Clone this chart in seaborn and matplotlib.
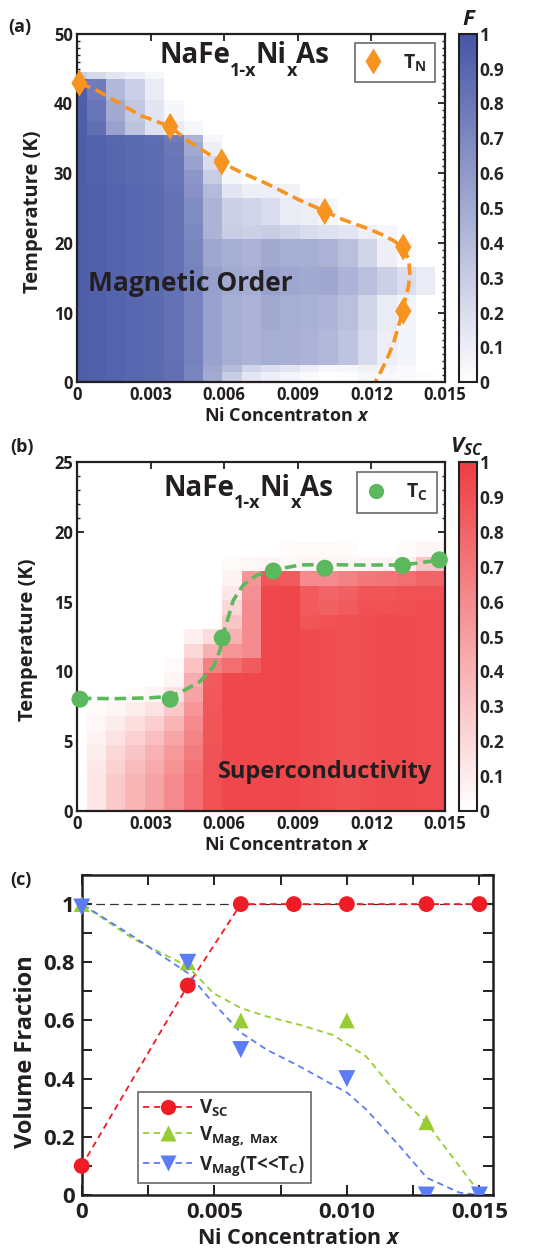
import numpy as np
import matplotlib
matplotlib.use("Agg")
import matplotlib.pyplot as plt
import seaborn as sns
from matplotlib.colors import LinearSegmentedColormap
from matplotlib.lines import Line2D
from matplotlib.ticker import MultipleLocator, FixedLocator, FixedFormatter

# ------------------------------------------------------------------ data
# Panel (a): magnetic volume fraction F on a (T, x) grid
a_x_step = 0.015 / 19          # column spacing of the colour map
a_T_step = 1.0                 # row spacing (K)
a_n_rows = 45
a_band_rows = [(0, 1), (2, 2), (3, 7), (8, 12), (13, 16), (17, 20), (21, 22), (23, 26),
               (27, 28), (29, 30), (31, 32), (33, 34), (35, 35), (36, 37), (38, 40),
               (41, 43), (44, 44)]
a_band_F = [
    [96, 94, 92, 90, 88, 85, 72, 50, 30, 15, 10, 6, 3, 0, 2, 5, 4, 3, 2],
    [96, 94, 92, 90, 88, 85, 73, 52, 40, 25, 20, 15, 10, 5, 5, 8, 6, 3, 0],
    [96, 94, 92, 90, 88, 84, 74, 55, 48, 45, 48, 47, 45, 42, 35, 22, 10, 6, 0],
    [96, 94, 92, 90, 88, 84, 74, 55, 48, 45, 50, 48, 46, 44, 38, 25, 12, 6, 0],
    [96, 94, 92, 90, 88, 84, 74, 56, 50, 48, 55, 52, 50, 52, 45, 38, 28, 20, 12],
    [96, 94, 92, 90, 88, 84, 73, 52, 48, 45, 50, 48, 48, 45, 38, 25, 10, 3, 0],
    [96, 94, 92, 90, 88, 84, 70, 45, 30, 28, 30, 25, 20, 18, 15, 10, 5, 0, 0],
    [96, 94, 92, 90, 88, 84, 68, 45, 28, 25, 20, 12, 10, 5, 0, 0, 0, 0, 0],
    [96, 94, 92, 90, 88, 83, 65, 40, 15, 10, 10, 8, 0, 0, 0, 0, 0, 0, 0],
    [96, 93, 91, 89, 87, 82, 62, 30, 5, 0, 0, 0, 0, 0, 0, 0, 0, 0, 0],
    [96, 93, 91, 89, 87, 82, 55, 20, 0, 0, 0, 0, 0, 0, 0, 0, 0, 0, 0],
    [96, 93, 91, 89, 87, 80, 50, 10, 0, 0, 0, 0, 0, 0, 0, 0, 0, 0, 0],
    [96, 92, 90, 88, 86, 78, 45, 5, 0, 0, 0, 0, 0, 0, 0, 0, 0, 0, 0],
    [96, 85, 55, 35, 18, 12, 5, 0, 0, 0, 0, 0, 0, 0, 0, 0, 0, 0, 0],
    [95, 82, 50, 32, 15, 5, 0, 0, 0, 0, 0, 0, 0, 0, 0, 0, 0, 0, 0],
    [95, 78, 42, 28, 12, 0, 0, 0, 0, 0, 0, 0, 0, 0, 0, 0, 0, 0, 0],
    [30, 22, 15, 10, 5, 0, 0, 0, 0, 0, 0, 0, 0, 0, 0, 0, 0, 0, 0],
]
tn_x = [0.0001, 0.0038, 0.0059, 0.0101, 0.0133, 0.0133]
tn_T = [42.9, 36.7, 31.6, 24.5, 19.4, 10.2]
tn_curve_x = [0.0001, 0.0008, 0.00162, 0.00257, 0.00379, 0.00447, 0.00529, 0.00591,
              0.00664, 0.00773, 0.00909, 0.01012, 0.01086, 0.01181, 0.01249, 0.01296,
              0.01327, 0.01351, 0.01357, 0.01351, 0.01337, 0.01327, 0.0131, 0.0129,
              0.01262, 0.01235, 0.01215]
tn_curve_T = [42.9, 41.9, 40.25, 38.3, 36.7, 34.75, 32.9, 31.5, 30.2, 28.5, 26.1, 24.5,
              23.3, 22.1, 21.1, 20.2, 19.2, 17.8, 15.6, 13.7, 11.8, 10.1, 8.0, 5.6, 3.2,
              1.3, 0.0]

# Panel (b): superconducting volume fraction V_SC
b_x_step = 0.015 / 19
b_T_step = 25 / 24
b_n_rows = 19
b_band_rows = [(0, 2), (3, 3), (4, 4), (5, 5), (6, 6), (7, 7), (8, 8), (9, 9), (10, 10),
               (11, 11), (12, 12), (13, 13), (14, 14), (15, 15), (16, 16), (17, 17), (18, 18)]
b_band_V = [
    [0, 14, 28, 38, 48, 60, 75, 90, 95, 95, 95, 96, 93, 92, 91, 92, 93, 93, 92, 92],
    [0, 12, 24, 34, 44, 56, 72, 90, 95, 95, 95, 96, 93, 92, 91, 92, 93, 93, 92, 92],
    [0, 9, 20, 30, 40, 52, 68, 89, 95, 95, 95, 96, 93, 92, 91, 92, 93, 93, 92, 92],
    [0, 7, 15, 24, 33, 46, 64, 88, 95, 95, 95, 96, 93, 92, 91, 92, 93, 93, 92, 92],
    [0, 4, 10, 17, 25, 38, 60, 88, 95, 95, 95, 96, 93, 92, 91, 92, 93, 93, 92, 92],
    [0, 2, 5, 9, 15, 28, 55, 87, 95, 95, 95, 96, 93, 92, 91, 92, 93, 93, 92, 92],
    [0, 0, 0, 2, 5, 15, 48, 86, 95, 95, 95, 96, 93, 92, 91, 92, 93, 93, 92, 92],
    [0, 0, 0, 0, 0, 6, 42, 85, 94, 95, 95, 96, 93, 92, 91, 92, 93, 93, 92, 92],
    [0, 0, 0, 0, 0, 3, 32, 65, 75, 85, 95, 96, 93, 92, 91, 92, 93, 93, 92, 92],
    [0, 0, 0, 0, 0, 0, 20, 40, 55, 60, 95, 96, 93, 92, 91, 92, 93, 93, 92, 92],
    [0, 0, 0, 0, 0, 0, 8, 18, 40, 60, 95, 96, 93, 92, 91, 92, 93, 93, 92, 92],
    [0, 0, 0, 0, 0, 0, 0, 0, 30, 60, 95, 96, 88, 90, 91, 92, 93, 93, 92, 92],
    [0, 0, 0, 0, 0, 0, 0, 0, 20, 60, 95, 96, 85, 82, 85, 90, 90, 91, 92, 92],
    [0, 0, 0, 0, 0, 0, 0, 0, 12, 58, 95, 96, 85, 80, 82, 88, 88, 90, 90, 90],
    [0, 0, 0, 0, 0, 0, 0, 0, 7, 55, 88, 85, 60, 60, 65, 70, 72, 75, 80, 80],
    [0, 0, 0, 0, 0, 0, 0, 0, 3, 4, 5, 4, 6, 6, 5, 5, 6, 8, 30, 30],
    [0, 0, 0, 0, 0, 0, 0, 0, 0, 0, 0, 2, 3, 3, 2, 0, 0, 2, 5, 5],
]
tc_x = [0.00012, 0.0038, 0.00592, 0.0080, 0.0101, 0.01327, 0.01477]
tc_T = [8.0, 8.0, 12.4, 17.2, 17.4, 17.6, 18.0]
tc_curve_x = [0.00012, 0.00162, 0.00298, 0.0038, 0.00427, 0.00501, 0.00556, 0.00583,
              0.00596, 0.00617, 0.00637, 0.00678, 0.00732, 0.0080, 0.00909, 0.01011,
              0.01113, 0.01327, 0.01477]
tc_curve_T = [8.06, 8.04, 8.1, 8.2, 8.54, 9.26, 10.33, 11.53, 12.7, 13.9, 15.1, 16.2,
              16.9, 17.27, 17.63, 17.67, 17.63, 17.63, 17.98]

# Panel (c): volume fractions
c_x = [0.0, 0.004, 0.006, 0.008, 0.010, 0.013, 0.015]
v_sc = [0.10, 0.72, 1.0, 1.0, 1.0, 1.0, 1.0]
vmax_x = [0.0, 0.004, 0.006, 0.010, 0.013, 0.015]
v_mag_max = [1.0, 0.80, 0.60, 0.60, 0.25, 0.0]
vlow_x = [0.0, 0.004, 0.006, 0.010, 0.013, 0.015]
v_mag_low = [0.99, 0.80, 0.50, 0.40, 0.0, 0.0]
vmax_curve_x = [0.0, 0.00195, 0.004, 0.00496, 0.00602, 0.00697, 0.00822, 0.00948,
                0.01073, 0.01199, 0.01302, 0.01425, 0.015]
vmax_curve_y = [1.0, 0.88, 0.786, 0.694, 0.642, 0.614, 0.585, 0.55, 0.476, 0.338,
                0.247, 0.098, 0.008]
vlow_curve_x = [0.00006, 0.00195, 0.004, 0.00496, 0.00602, 0.00697, 0.00822, 0.01002,
                0.01073, 0.01199, 0.01302, 0.01425, 0.015]
vlow_curve_y = [0.997, 0.888, 0.763, 0.66, 0.557, 0.5, 0.442, 0.351, 0.294, 0.168,
                0.059, 0.008, 0.0]

ab_xticks = [0, 0.003, 0.006, 0.009, 0.012, 0.015]
ab_xticklabels = ["0", "0.003", "0.006", "0.009", "0.012", "0.015"]
cbar_ticks = [0, 0.1, 0.2, 0.3, 0.4, 0.5, 0.6, 0.7, 0.8, 0.9, 1.0]
cbar_ticklabels = ["0", "0.1", "0.2", "0.3", "0.4", "0.5", "0.6", "0.7", "0.8", "0.9", "1"]
c_xticks = [0, 0.005, 0.010, 0.015]
c_xticklabels = ["0", "0.005", "0.010", "0.015"]
c_yticks = [0, 0.2, 0.4, 0.6, 0.8, 1.0]
c_yticklabels = ["0", "0.2", "0.4", "0.6", "0.8", "1"]
title_parts = [("NaFe", False), ("1-x", True), ("Ni", False), ("x", True), ("As", False)]

# ------------------------------------------------------------------ style
sns.set_theme(style="ticks")
FONT = "Open Sans"
plt.rcParams["font.family"] = [FONT, "DejaVu Sans"]
plt.rcParams["font.weight"] = "bold"
plt.rcParams["mathtext.fontset"] = "custom"
plt.rcParams["mathtext.rm"] = FONT + ":bold"
plt.rcParams["mathtext.it"] = FONT + ":bold:italic"
plt.rcParams["mathtext.bf"] = FONT + ":bold"
plt.rcParams["axes.linewidth"] = 1.5
plt.rcParams["xtick.direction"] = "in"
plt.rcParams["ytick.direction"] = "in"

W, H = 555, 1251
fig = plt.figure(figsize=(W / 100, H / 100), dpi=100)
renderer = fig.canvas.get_renderer()


def rect(l, t, r, b):
    return [l / W, 1 - b / H, (r - l) / W, (b - t) / H]


def fx(px):
    return px / W


def fy(py):
    return 1 - py / H


DARK = "#231f20"
blue_cmap = LinearSegmentedColormap.from_list("mag", ["#ffffff", "#4656a6"])
red_cmap = LinearSegmentedColormap.from_list("sc", ["#ffffff", "#ee3e42"])
ORANGE = "#f7931e"
GREEN = "#5cb85c"


def build_grid(n_rows, band_rows, band_vals):
    grid = np.zeros((n_rows, len(band_vals[0])))
    for (lo, hi), vals in zip(band_rows, band_vals):
        grid[lo:hi + 1, :] = np.asarray(vals, dtype=float) / 100.0
    return grid


def compose_title(x0, base, drop, parts, size=20, sub_size=13):
    x = x0
    for s, sub in parts:
        t = fig.text(fx(x), fy(base + (drop if sub else 0)), s, ha="left",
                     va="baseline", fontsize=sub_size if sub else size,
                     fontweight="bold", color=DARK)
        bb = t.get_window_extent(renderer)
        x = bb.x1 - (1 if sub else 0)


def style_heat_axes(ax, ylim, ymajor):
    ax.set_xlim(0, 0.015)
    ax.set_ylim(*ylim)
    ax.xaxis.set_major_locator(FixedLocator(ab_xticks))
    ax.xaxis.set_major_formatter(FixedFormatter(ab_xticklabels))
    ax.yaxis.set_major_locator(MultipleLocator(ymajor))
    ax.yaxis.set_minor_locator(MultipleLocator(1))
    ax.tick_params(which="both", top=True, right=True, direction="in", color=DARK)
    ax.tick_params(which="major", length=5, width=1.3, labelsize=12, pad=3)
    ax.tick_params(which="minor", length=2.5, width=1.0)
    for s in ax.spines.values():
        s.set_linewidth(1.6)
        s.set_color(DARK)
    for lab in ax.get_xticklabels() + ax.get_yticklabels():
        lab.set_fontweight("bold")
        lab.set_color(DARK)


def style_cbar(cax):
    cax.yaxis.set_major_locator(FixedLocator(cbar_ticks))
    cax.yaxis.set_major_formatter(FixedFormatter(cbar_ticklabels))
    cax.tick_params(which="both", left=True, right=True, direction="in", length=4,
                    width=1.2, labelsize=12.5, pad=2, color=DARK)
    for s in cax.spines.values():
        s.set_linewidth(1.5)
        s.set_color(DARK)
    for lab in cax.get_yticklabels():
        lab.set_fontweight("bold")


# ------------------------------------------------------------------ panel (a)
axA = fig.add_axes(rect(77, 33.7, 445, 382.3))
F = build_grid(a_n_rows, a_band_rows, a_band_F)
a_xe = np.concatenate([[0.0], (np.arange(F.shape[1]) + 0.5) * a_x_step])
a_Te = np.concatenate([[0.0], (np.arange(F.shape[0]) + 0.5) * a_T_step])
meshA = axA.pcolormesh(a_xe, a_Te, F, cmap=blue_cmap, vmin=0, vmax=1, shading="flat")
sns.lineplot(x=tn_curve_x, y=tn_curve_T, sort=False, estimator=None, ax=axA,
             color=ORANGE, lw=2.6)
axA.lines[-1].set_dashes((3.2, 1.6))
sns.scatterplot(x=tn_x, y=tn_T, marker="d", s=190, color=ORANGE, edgecolor="none",
                ax=axA, clip_on=False, zorder=5)
style_heat_axes(axA, (0, 50), 10)
axA.set_xlabel(r"Ni Concentraton $\mathit{x}$", fontsize=13, fontweight="bold", color=DARK)
axA.set_ylabel("Temperature (K)", fontsize=14.5, fontweight="bold", color=DARK)
axA.xaxis.set_label_coords(0.569, -0.071)
axA.yaxis.set_label_coords(-0.092, 0.489)
axA.text(0.03, 0.262, "Magnetic Order", transform=axA.transAxes, fontsize=19,
         fontweight="bold", color=DARK)
compose_title(159, 63, 13, title_parts)
hA = [Line2D([], [], marker="d", color=ORANGE, ls="none", markersize=13,
             markeredgecolor="none")]
legA = axA.legend(hA, [r"T$_{\mathrm{N}}$"], loc="upper right",
                  bbox_to_anchor=(0.972, 0.972), fontsize=14, frameon=True,
                  fancybox=False, handlelength=1.0, handletextpad=1.0,
                  borderpad=0.45, borderaxespad=0)
legA.get_frame().set_edgecolor("#444444")
legA.get_frame().set_linewidth(1.2)

caxA = fig.add_axes(rect(459, 33.7, 477, 382.3))
fig.colorbar(meshA, cax=caxA)
style_cbar(caxA)
fig.text(fx(468), fy(25), "F", ha="center", va="baseline", fontsize=16,
         fontweight="bold", fontstyle="italic", color=DARK)
fig.text(fx(8), fy(32), "(a)", ha="left", va="baseline", fontsize=13,
         fontweight="bold", color=DARK)

# ------------------------------------------------------------------ panel (b)
axB = fig.add_axes(rect(77, 462.3, 445, 810.7))
V = build_grid(b_n_rows, b_band_rows, b_band_V)
b_xe = np.concatenate([[0.0], (np.arange(V.shape[1]) + 0.5) * b_x_step])
b_Te = np.concatenate([[0.0], (np.arange(V.shape[0]) + 0.5) * b_T_step])
meshB = axB.pcolormesh(b_xe, b_Te, V, cmap=red_cmap, vmin=0, vmax=1, shading="flat")
sns.lineplot(x=tc_curve_x, y=tc_curve_T, sort=False, estimator=None, ax=axB,
             color=GREEN, lw=2.6)
axB.lines[-1].set_dashes((3.2, 1.6))
sns.scatterplot(x=tc_x, y=tc_T, marker="o", s=150, color=GREEN, edgecolor="none",
                ax=axB, clip_on=False, zorder=5)
style_heat_axes(axB, (0, 25), 5)
axB.set_xlabel(r"Ni Concentraton $\mathit{x}$", fontsize=13, fontweight="bold", color=DARK)
axB.set_ylabel("Temperature (K)", fontsize=14.5, fontweight="bold", color=DARK)
axB.xaxis.set_label_coords(0.569, -0.073)
axB.yaxis.set_label_coords(-0.105, 0.49)
axB.text(0.384, 0.095, "Superconductivity", transform=axB.transAxes, fontsize=17,
         fontweight="bold", color=DARK)
compose_title(163, 496.5, 12, title_parts)
hB = [Line2D([], [], marker="o", color=GREEN, ls="none", markersize=11,
             markeredgecolor="none")]
legB = axB.legend(hB, [r"T$_{\mathrm{C}}$"], loc="upper right",
                  bbox_to_anchor=(0.978, 0.972), fontsize=14, frameon=True,
                  fancybox=False, handlelength=1.0, handletextpad=1.0,
                  borderpad=0.5, borderaxespad=0)
legB.get_frame().set_edgecolor("#444444")
legB.get_frame().set_linewidth(1.2)

caxB = fig.add_axes(rect(459, 462.3, 477, 810.7))
fig.colorbar(meshB, cax=caxB)
style_cbar(caxB)
fig.text(fx(450), fy(452), r"$\mathit{V}_{\mathit{SC}}$", ha="left", va="baseline",
         fontsize=16, color=DARK)
fig.text(fx(10), fy(452), "(b)", ha="left", va="baseline", fontsize=13,
         fontweight="bold", color=DARK)

# ------------------------------------------------------------------ panel (c)
axC = fig.add_axes(rect(81.7, 875, 492.7, 1195))
RED = "#ee1c25"
LGREEN = "#99cc33"
BLUE = "#5b7cf5"
axC.axhline(1.0, color="#333333", lw=0.9, dashes=(7, 4), zorder=1)
curves = [
    (c_x, v_sc, RED),
    (vmax_curve_x, vmax_curve_y, LGREEN),
    (vlow_curve_x, vlow_curve_y, BLUE),
]
for cx, cy, col in curves:
    sns.lineplot(x=cx, y=cy, sort=False, estimator=None, ax=axC, color=col, lw=1.3)
    axC.lines[-1].set_dashes((3.5, 2.5))
markers = [
    (c_x, v_sc, RED, "o", 130),
    (vmax_x, v_mag_max, LGREEN, "^", 130),
    (vlow_x, v_mag_low, BLUE, "v", 150),
]
for mx, my, col, mk, sz in markers:
    mx = np.asarray(mx)
    my = np.asarray(my)
    above = my > 0
    sns.scatterplot(x=mx[above], y=my[above], marker=mk, s=sz, color=col,
                    edgecolor="none", ax=axC, clip_on=False, zorder=5)
    if (~above).any():
        sns.scatterplot(x=mx[~above], y=my[~above], marker=mk, s=sz, color=col,
                        edgecolor="none", ax=axC, clip_on=True, zorder=5)
axC.set_xlim(0, 0.0155)
axC.set_ylim(0, 1.1)
axC.xaxis.set_major_locator(FixedLocator(c_xticks))
axC.xaxis.set_major_formatter(FixedFormatter(c_xticklabels))
axC.xaxis.set_minor_locator(MultipleLocator(0.0025))
axC.yaxis.set_major_locator(FixedLocator(c_yticks))
axC.yaxis.set_major_formatter(FixedFormatter(c_yticklabels))
axC.yaxis.set_minor_locator(MultipleLocator(0.1))
axC.tick_params(which="both", top=True, right=True, direction="in", length=7,
                width=1.4, color=DARK)
axC.tick_params(which="major", labelsize=16, pad=5)
for s in axC.spines.values():
    s.set_linewidth(1.8)
    s.set_color(DARK)
for lab in axC.get_xticklabels() + axC.get_yticklabels():
    lab.set_fontweight("bold")
    lab.set_color(DARK)
axC.set_xlabel(r"Ni Concentration $\mathit{x}$", fontsize=15.5, fontweight="bold", color=DARK)
axC.set_ylabel("Volume Fraction", fontsize=17, fontweight="bold", color=DARK)
axC.xaxis.set_label_coords(0.529, -0.102)
axC.yaxis.set_label_coords(-0.107, 0.448)
hC = [
    Line2D([], [], color=RED, lw=1.3, dashes=(3.5, 2.5), marker="o", markersize=11,
           markeredgecolor="none"),
    Line2D([], [], color=LGREEN, lw=1.3, dashes=(3.5, 2.5), marker="^", markersize=11,
           markeredgecolor="none"),
    Line2D([], [], color=BLUE, lw=1.3, dashes=(3.5, 2.5), marker="v", markersize=12,
           markeredgecolor="none"),
]
labC = [r"V$_{\mathrm{SC}}$", r"V$_{\mathrm{Mag,\ Max}}$",
        r"V$_{\mathrm{Mag}}$(T<<T$_{\mathrm{C}}$)"]
legC = axC.legend(hC, labC, loc="lower left", bbox_to_anchor=(0.136, 0.037),
                  fontsize=13.5, frameon=True, fancybox=False, handlelength=2.6,
                  handletextpad=0.4, borderpad=0.3, labelspacing=0.3,
                  borderaxespad=0)
legC.get_frame().set_edgecolor("#444444")
legC.get_frame().set_linewidth(1.2)
fig.text(fx(10), fy(885), "(c)", ha="left", va="baseline", fontsize=13,
         fontweight="bold", color=DARK)

fig.savefig("out.png", dpi=100)
